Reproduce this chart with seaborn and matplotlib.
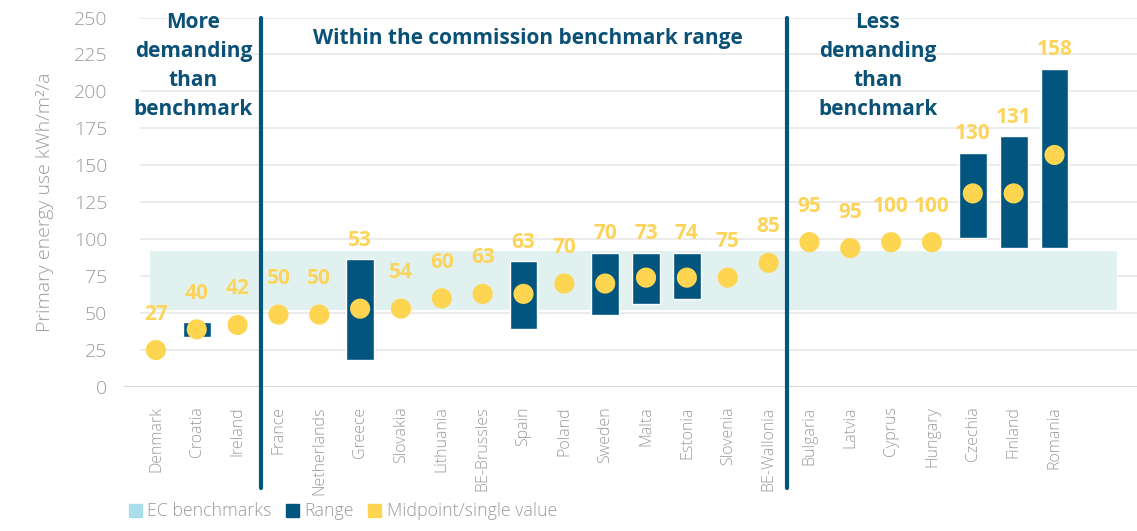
import matplotlib
matplotlib.use("Agg")
import matplotlib.pyplot as plt
import matplotlib.patches as mpatches
import seaborn as sns
import pandas as pd

# --- data ---
countries = ["Denmark", "Croatia", "Ireland", "France", "Netherlands", "Greece",
             "Slovakia", "Lithuania", "BE-Brussles", "Spain", "Poland", "Sweden",
             "Malta", "Estonia", "Slovenia", "BE-Wallonia", "Bulgaria", "Latvia",
             "Cyprus", "Hungary", "Czechia", "Finland", "Romania"]
midpoints = [25, 39, 42, 49, 49, 53, 53, 60, 63, 63, 70, 70, 74, 74, 74, 84,
             98, 94, 98, 98, 131, 131, 157]
value_labels = ["27", "40", "42", "50", "50", "53", "54", "60", "63", "63", "70", "70",
                "73", "74", "75", "85", "95", "95", "100", "100", "130", "131", "158"]
range_low = [None, 33.5, None, None, None, 18, None, None, None, 39.5, None, 49,
             56, 59.5, None, None, None, None, None, None, 101, 94, 94]
range_high = [None, 44, None, None, None, 86.5, None, None, None, 85, None, 91,
              91, 91, None, None, None, None, None, None, 158.5, 169.5, 215.5]
benchmark_low, benchmark_high = 52, 92
group_titles = ["More\ndemanding\nthan\nbenchmark",
                "Within the commission benchmark range",
                "Less\ndemanding\nthan\nbenchmark"]

df = pd.DataFrame({"country": countries, "mid": midpoints,
                   "low": range_low, "high": range_high, "label": value_labels})

NAVY = "#01557f"
YELLOW = "#fed551"
LABEL_YELLOW = "#fdd45a"
BAND = "#e1f1ef"
GREY = "#9b9b9b"
HEAD = "#0b5177"

sns.set_theme(style="white")
plt.rcParams["font.family"] = ["Open Sans", "DejaVu Sans"]

fig = plt.figure(figsize=(11.37, 5.31), dpi=100)
ax = fig.add_axes([0.1091, 0.2712, 0.8909, 0.6958])
xmin, xmax = -0.78, 24.02
ax.set_xlim(xmin, xmax)
ax.set_ylim(0, 250)

# grid
ax.hlines(range(25, 251, 25), -0.38, xmax, color="#e8e8e8", lw=1.2, zorder=0)
ax.axhline(0, color="#cfcfcf", lw=2, zorder=1)

# EC benchmark band
ax.add_patch(mpatches.Rectangle((-0.14, benchmark_low), 23.66, benchmark_high - benchmark_low,
                                facecolor=BAND, edgecolor="none", zorder=0.5))

# range bars
rng = df.dropna(subset=["low"])
ax.bar(rng.index, rng["high"] - rng["low"], bottom=rng["low"], width=0.68,
       color=NAVY, zorder=2)

# midpoints
sns.scatterplot(data=df, x="country", y="mid", s=210, color=YELLOW,
                edgecolor="none", zorder=3, ax=ax, legend=False)

# value labels
for i, row in df.iterrows():
    if pd.notna(row["high"]) and row["high"] > row["mid"] + 10:
        y, off = row["high"], 19
    else:
        y, off = row["mid"], 36
    ax.annotate(row["label"], (i, y), xytext=(0, off), textcoords="offset pixels",
                ha="center", va="center", fontsize=15, fontweight="bold",
                color=LABEL_YELLOW, zorder=4)

# group dividers
for xd in (2.58, 15.45):
    ax.axvline(xd, ymin=-0.273, ymax=1.0, color=NAVY, lw=3, clip_on=False, zorder=5)

ax.text(0.92, 254, group_titles[0], ha="center", va="top", fontsize=15,
        fontweight="bold", color=HEAD, linespacing=1.5)
ax.text(9.1, 235.5, group_titles[1], ha="center", va="center", fontsize=15,
        fontweight="bold", color=HEAD)
ax.text(17.67, 254, group_titles[2], ha="center", va="top", fontsize=15,
        fontweight="bold", color=HEAD, linespacing=1.5)

# axes styling
ax.set_yticks(range(0, 251, 25))
ax.set_yticklabels([str(v) for v in range(0, 251, 25)], fontweight="light")
ax.tick_params(axis="y", length=0, pad=12, labelsize=14, labelcolor=GREY)
ax.tick_params(axis="x", length=0, pad=14, labelsize=11.5, labelcolor=GREY)
ax.set_xticks(range(len(countries)))
ax.set_xticklabels(countries, rotation=90, va="top", fontweight="light")
ax.set_xlabel("")
ax.set_ylabel("Primary energy use kWh/m²/a", fontsize=14, color=GREY, labelpad=14,
              fontweight="light")
for sp in ax.spines.values():
    sp.set_visible(False)

handles = [mpatches.Patch(color="#a9dde9", label="EC benchmarks"),
           mpatches.Patch(color=NAVY, label="Range"),
           mpatches.Patch(color=YELLOW, label="Midpoint/single value")]
leg = fig.legend(handles=handles, loc="lower left", bbox_to_anchor=(0.099, -0.01),
                 ncol=3, frameon=False, handlelength=0.75, handleheight=0.75,
                 handletextpad=0.3, columnspacing=0.8,
                 prop={"size": 12.8, "weight": "light"})
for t in leg.get_texts():
    t.set_color(GREY)

fig.savefig("out.png", dpi=100)
